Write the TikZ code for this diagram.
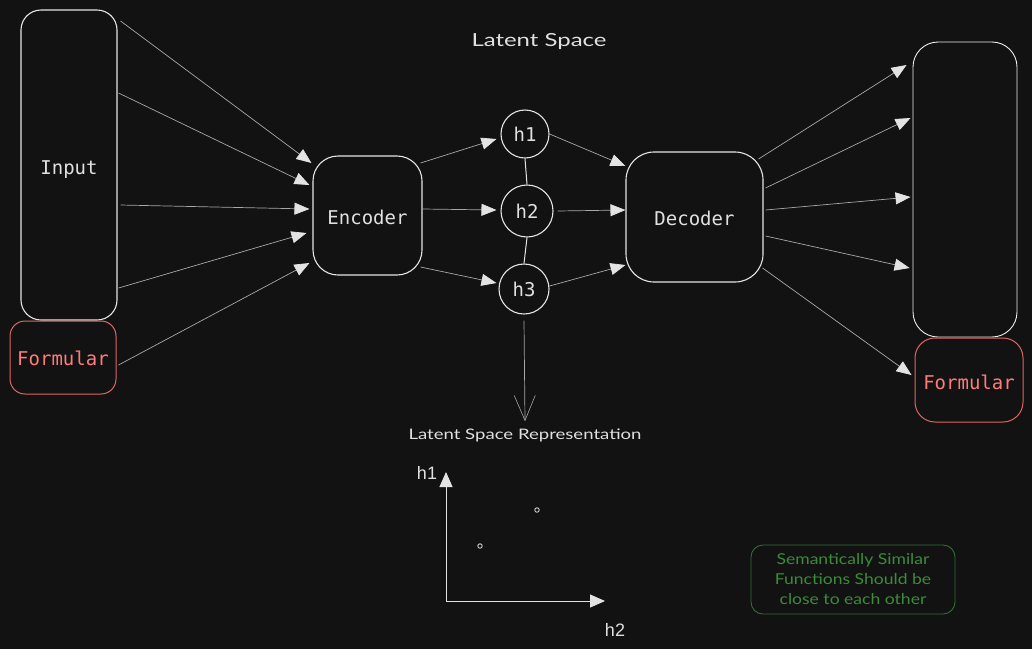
\documentclass[tikz,border=0pt]{standalone}
\usepackage{graphicx}
\usepackage{fontspec}
\setmonofont{DejaVu Sans Mono}
\newfontfamily\handfont{Lato}
\newfontfamily\helvfont{Liberation Sans}
\usetikzlibrary{arrows.meta}
\definecolor{bg}{HTML}{121212}
\definecolor{fg}{HTML}{E0E0E0}
\definecolor{ln}{HTML}{A8A8A8}
\definecolor{redc}{HTML}{FF7B7B}
\definecolor{redb}{HTML}{E06666}
\definecolor{greenc}{HTML}{3A8C3A}
\definecolor{greenb}{HTML}{2F6F2F}
\newcommand{\mtxt}[2]{\raisebox{-#1}[0pt][0pt]{#2}}
\begin{document}
\begin{tikzpicture}[x=1pt,y=-1pt,
  monotext/.style={font=\ttfamily\fontsize{19}{22}\selectfont},
  boxnode/.style={draw=fg!85, line width=1.1pt, inner sep=0pt, monotext, text=fg},
  redbox/.style={draw=redb, line width=1pt, inner sep=0pt, monotext, text=redc},
  hnode/.style={circle, draw=fg!85, line width=1.1pt, inner sep=0pt, monotext, text=fg},
  arr/.style={draw=ln, line width=0.7pt, -{Triangle[length=15pt,width=12pt,color=fg!90]}},
  axarr/.style={draw=fg!90, line width=1pt, -{Triangle[length=15pt,width=13pt,color=fg!90]}},
  downarr/.style={draw=ln, line width=0.7pt, -{Straight Barb[length=25pt,width=21pt,line width=0.6pt]}},
  lnk/.style={draw=fg!85, line width=1pt},
  hand/.style={text=fg, inner sep=0pt},
  axlbl/.style={text=fg, inner sep=0pt, font=\helvfont\fontsize{18}{20}\selectfont},
  dotnode/.style={circle, draw=fg!90, line width=0.8pt, minimum size=4.5pt, inner sep=0pt},
]
\fill[bg] (0,0) rectangle (1032,649);

% boxes
\node[boxnode, rounded corners=20pt, minimum width=96pt, minimum height=310pt] (inp) at (69,165) {\mtxt{9pt}{Input}};
\node[redbox, rounded corners=15pt, minimum width=106pt, minimum height=73pt] (forml) at (63,357.5) {\mtxt{7.5pt}{Formular}};
\node[boxnode, rounded corners=25pt, minimum width=109pt, minimum height=119pt] (enc) at (367.5,215.5) {\mtxt{8.5pt}{Encoder}};
\node[hnode, minimum size=48pt] (h1) at (525,134) {\mtxt{7pt}{h1}};
\node[hnode, minimum size=52pt] (h2) at (527,211) {\mtxt{7pt}{h2}};
\node[hnode, minimum size=50pt] (h3) at (524,289) {\mtxt{7pt}{h3}};
\node[boxnode, rounded corners=28pt, minimum width=137pt, minimum height=130pt] (dec) at (694.5,217) {\mtxt{8pt}{Decoder}};
\node[boxnode, draw=fg!55, line width=0.9pt, rounded corners=25pt, minimum width=104pt, minimum height=295pt] (outb) at (965,189.5) {};
\node[redbox, rounded corners=20pt, minimum width=108pt, minimum height=84pt] (formr) at (969,380) {\mtxt{9pt}{Formular}};

% texts
\node[hand] (ttl) at (539,42) {\scalebox{1.33}[1]{\handfont\fontsize{18}{20}\selectfont Latent Space}};
\node[hand] (lsr) at (525,435) {\scalebox{1.28}[1]{\handfont\fontsize{14.5}{16}\selectfont Latent Space Representation}};
\node[draw=greenb, line width=0.9pt, rounded corners=12pt, minimum width=204pt, minimum height=69pt, inner sep=0pt,
      text=greenc, align=center, font=\handfont\fontsize{15}{20}\selectfont] (note) at (853,579.5)
      {\scalebox{1.17}[1]{Semantically Similar}\\\scalebox{1.17}[1]{Functions Should be}\\\scalebox{1.17}[1]{close to each other}};

% input -> encoder
\draw[arr] ([xshift=3pt,yshift=144pt]inp.east) -- ([xshift=-1pt,yshift=52.5pt]enc.west);
\draw[arr] ([xshift=1pt,yshift=72pt]inp.east) -- ([xshift=-3pt,yshift=30.5pt]enc.west);
\draw[arr] ([xshift=3pt,yshift=-40pt]inp.east) -- ([xshift=-3pt,yshift=6.5pt]enc.west);
\draw[arr] ([xshift=1pt,yshift=-123pt]inp.east) -- ([xshift=-6pt,yshift=-17.5pt]enc.west);
\draw[arr] ([xshift=2pt,yshift=-7.5pt]forml.east) -- ([xshift=-3pt,yshift=-47.5pt]enc.west);

% encoder -> latent
\draw[arr] ([xshift=-2pt,yshift=52.5pt]enc.east) -- ([xshift=-4pt,yshift=-5pt]h1.west);
\draw[arr] ([yshift=6.5pt]enc.east) -- ([xshift=-4pt,yshift=1pt]h2.west);
\draw[arr] ([xshift=-2pt,yshift=-51.5pt]enc.east) -- ([xshift=-2pt,yshift=6pt]h3.west);

% latent links
\draw[lnk] (h1.south) -- (h2.north);
\draw[lnk] (h2.south) -- (h3.north);

% latent -> decoder
\draw[arr] (h1.east) -- ([yshift=51pt]dec.west);
\draw[arr] ([xshift=4pt]h2.east) -- ([yshift=7pt]dec.west);
\draw[arr] ([yshift=3pt]h3.east) -- ([yshift=-48pt]dec.west);

% h3 -> representation
\draw[downarr] ([yshift=-6pt]h3.south) -- ([yshift=7pt]lsr.north);

% decoder -> output
\draw[arr] ([xshift=-5pt,yshift=58pt]dec.east) -- ([xshift=-6pt,yshift=124.5pt]outb.west);
\draw[arr] ([xshift=2pt,yshift=29pt]dec.east) -- ([xshift=-2pt,yshift=71.5pt]outb.west);
\draw[arr] ([xshift=2pt,yshift=7pt]dec.east) -- ([xshift=-2pt,yshift=-7.5pt]outb.west);
\draw[arr] ([xshift=2pt,yshift=-19pt]dec.east) -- ([xshift=-3pt,yshift=-78.5pt]outb.west);
\draw[arr] ([xshift=-1pt,yshift=-51pt]dec.east) -- ([xshift=-3pt,yshift=5pt]formr.west);

% plot
\coordinate (o) at (446,601);
\coordinate (yt) at (446,472);
\coordinate (xt) at (605,601);
\draw[axarr] (o) -- (yt);
\draw[axarr] (o) -- (xt);
\node[axlbl] (lh1) at (427,473) {h1};
\node[axlbl] (lh2) at (615,630) {h2};
\node[dotnode] (p1) at (537,510) {};
\node[dotnode] (p2) at (480,546) {};
\end{tikzpicture}
\end{document}
